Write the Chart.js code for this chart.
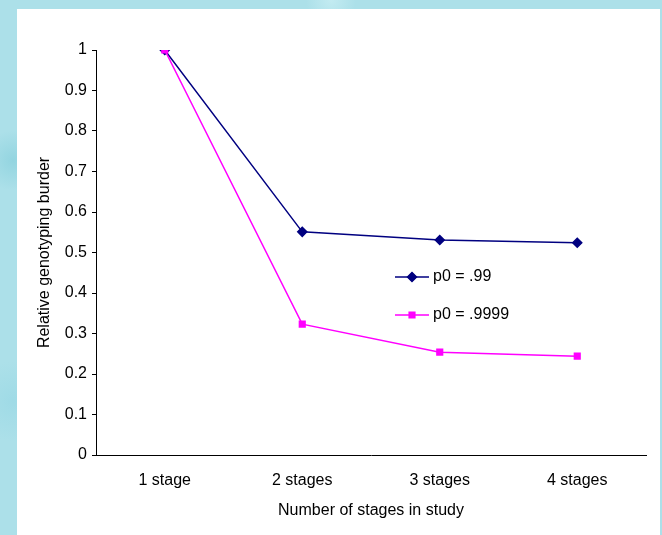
<!DOCTYPE html>
<html>
<head>
<meta charset="utf-8">
<script src="https://cdn.jsdelivr.net/npm/chart.js@4.4.1/dist/chart.umd.min.js"></script>
<style>
    html, body { margin: 0; padding: 0; }
    body {
        width: 662px; height: 535px; overflow: hidden; position: relative;
        background-color: #ace0e9;
        background-image:
            radial-gradient(circle at 2% 30%, rgba(130, 205, 218, 0.6) 0, rgba(130, 205, 218, 0) 30px),
            radial-gradient(circle at 2% 75%, rgba(150, 215, 228, 0.6) 0, rgba(150, 215, 228, 0) 40px),
            radial-gradient(circle at 50% 0%, rgba(205, 240, 245, 0.7) 0, rgba(205, 240, 245, 0) 25px);
    }
    #panel {
        position: absolute; left: 17px; top: 9px; width: 643px; height: 526px;
        background: #ffffff;
    }
</style>
</head>
<body>
<div id="panel"><canvas id="stagesChart" width="643" height="526"></canvas></div>
<script>
// --- data ---
var stageLabels = ['1 stage', '2 stages', '3 stages', '4 stages'];
var burden99 = [1.0, 0.551, 0.531, 0.524];
var burden9999 = [1.0, 0.323, 0.254, 0.244];
var seriesNames = ['p0 = .99', 'p0 = .9999'];
var yTicks = [0, 0.1, 0.2, 0.3, 0.4, 0.5, 0.6, 0.7, 0.8, 0.9, 1];

var FONT = { family: '"Liberation Sans", Arial, sans-serif', size: 16 };

// legend drawn inside the plot, like the Excel original
var innerLegend = {
    id: 'innerLegend',
    afterDatasetsDraw: function (chart) {
        var ctx = chart.ctx;
        var x0 = 378, y0 = 268, rowGap = 38;
        chart.data.datasets.forEach(function (ds, i) {
            var y = y0 + i * rowGap;
            ctx.save();
            ctx.strokeStyle = ds.borderColor;
            ctx.lineWidth = 1.5;
            ctx.beginPath();
            ctx.moveTo(x0, y);
            ctx.lineTo(x0 + 34, y);
            ctx.stroke();
            Chart.helpers.drawPoint(ctx, {
                pointStyle: ds.pointStyle,
                radius: ds.pointRadius,
                borderWidth: 1
            }, x0 + 17, y);
            ctx.fillStyle = ds.pointBackgroundColor;
            ctx.strokeStyle = ds.pointBorderColor;
            ctx.fill();
            ctx.fillStyle = '#000';
            ctx.font = FONT.size + 'px ' + FONT.family;
            ctx.textBaseline = 'middle';
            ctx.fillText(ds.label, x0 + 38, y);
            ctx.restore();
        });
    }
};

new Chart(document.getElementById('stagesChart').getContext('2d'), {
    type: 'line',
    data: {
        labels: stageLabels,
        datasets: [{
            label: seriesNames[0],
            data: burden99,
            order: 1,
            borderColor: '#000080',
            backgroundColor: '#000080',
            pointBackgroundColor: '#000080',
            pointBorderColor: '#000080',
            pointStyle: 'rectRot',
            pointRadius: 4.5,
            borderWidth: 1.5,
            tension: 0
        }, {
            label: seriesNames[1],
            data: burden9999,
            order: 0,
            borderColor: '#ff00ff',
            backgroundColor: '#ff00ff',
            pointBackgroundColor: '#ff00ff',
            pointBorderColor: '#ff00ff',
            pointStyle: 'rect',
            pointRadius: 4,
            borderWidth: 1.5,
            tension: 0
        }]
    },
    options: {
        responsive: false,
        animation: false,
        layout: { padding: { top: 41, right: 14, left: 0, bottom: 0 } },
        plugins: { legend: { display: false }, tooltip: { enabled: false } },
        scales: {
            x: {
                offset: true,
                grid: { display: false, drawTicks: false },
                border: { display: true, color: '#000', width: 1 },
                ticks: { color: '#000', font: FONT, padding: 16, maxRotation: 0 },
                title: {
                    display: true, text: 'Number of stages in study',
                    color: '#000', font: FONT, padding: { top: 0, bottom: 15 }
                },
                afterFit: function (scale) { scale.height = 80; }
            },
            y: {
                min: 0, max: 1,
                afterBuildTicks: function (scale) {
                    scale.ticks = yTicks.map(function (v) { return { value: v }; });
                },
                grid: { drawOnChartArea: false, tickLength: 4, color: '#000' },
                border: { display: true, color: '#000', width: 1 },
                ticks: {
                    color: '#000', font: FONT, padding: 5,
                    callback: function (v) { return String(v); }
                },
                title: {
                    display: true, text: 'Relative genotyping burder',
                    color: '#000', font: FONT, padding: { top: 18, bottom: 0 }
                },
                afterFit: function (scale) { scale.width = 79; }
            }
        }
    },
    plugins: [innerLegend]
});
</script>
</body>
</html>
